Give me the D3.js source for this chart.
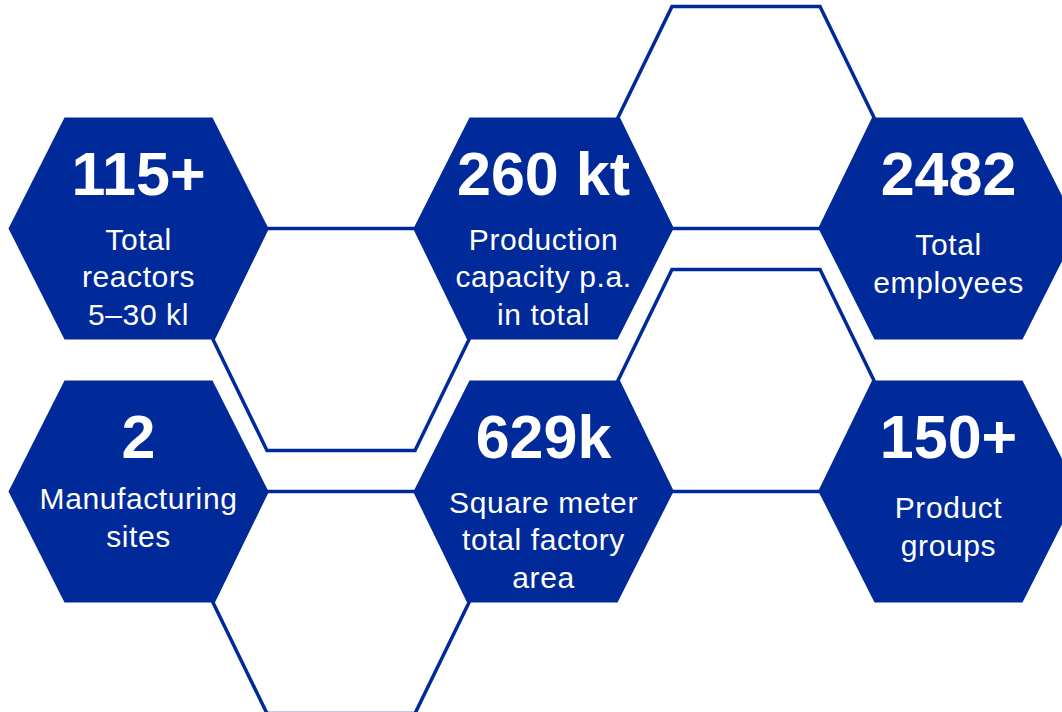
<!DOCTYPE html>
<html>
<head>
<meta charset="utf-8">
<script src="https://cdn.jsdelivr.net/npm/d3@7/dist/d3.min.js"></script>
<style>
  html, body { margin: 0; padding: 0; background: #ffffff; overflow: hidden; }
  svg { display: block; }
</style>
</head>
<body>
<svg id="chart" width="1062" height="712"></svg>
<script>
// ---- data ----
const values = ["115+", "260 kt", "2482", "2", "629k", "150+"];
const labels = [
  ["Total", "reactors", "5\u201330 kl"],
  ["Production", "capacity p.a.", "in total"],
  ["Total", "employees"],
  ["Manufacturing", "sites"],
  ["Square meter", "total factory", "area"],
  ["Product", "groups"]
];
const filledCols = [0, 2, 4, 0, 2, 4];
const filledRows = [0, 0, 0, 1, 1, 1];
const outlineCols = [1, 1, 3, 3];
const outlineRows = [0, 1, 0, 1];
const outlineShift = [1, 1, -1, -1];

// ---- layout ----
const W = 1062, H = 712;
const blue = "#00299a";
const halfW = 130, halfTop = 74, halfH = 111;
const x = d3.scaleLinear().domain([0, 4]).range([138.5, 948.5]);
const y = d3.scaleLinear().domain([0, 1]).range([228.5, 491.5]);

const svg = d3.select("#chart");
svg.append("rect").attr("width", W).attr("height", H).attr("fill", "#fff");

function hexPath(cx, cy, hw, ht, hh) {
  const pts = [
    [cx - ht, cy - hh], [cx + ht, cy - hh], [cx + hw, cy],
    [cx + ht, cy + hh], [cx - ht, cy + hh], [cx - hw, cy]
  ];
  return d3.line()(pts) + "Z";
}

// outline hexagons
const outlines = outlineCols.map((c, i) => ({ c, r: outlineRows[i], s: outlineShift[i] }));
svg.append("g").selectAll("path").data(outlines).join("path")
  .attr("d", d => hexPath(x(d.c), y(d.r) + d.s * halfH, halfW - 2, halfTop, halfH))
  .attr("fill", "none")
  .attr("stroke", blue)
  .attr("stroke-width", 3.5)
  .attr("stroke-linejoin", "miter");

// filled hexagons
const items = values.map((v, i) => ({ v, lines: labels[i], c: filledCols[i], r: filledRows[i], i }));
const g = svg.append("g").selectAll("g").data(items).join("g")
  .attr("transform", d => `translate(${x(d.c)},${y(d.r)})`);

g.append("path")
  .attr("d", hexPath(0, 0, halfW, halfTop, halfH))
  .attr("fill", blue);

g.append("text")
  .attr("x", 0).attr("y", -33.5)
  .attr("text-anchor", "middle")
  .attr("font-family", "'Liberation Sans', Arial, sans-serif")
  .attr("font-weight", "bold")
  .attr("font-size", 61)
  .attr("fill", "#fff")
  .text(d => d.v);

const lineH = 37.5;
g.each(function(d) {
  let start = d.lines.length === 3 ? 21 : 26.5;
  if (d.i === 3) start = 17.5;
  const t = d3.select(this).append("text")
    .attr("text-anchor", "middle")
    .attr("font-family", "'Liberation Sans', Arial, sans-serif")
    .attr("font-size", 30)
    .attr("letter-spacing", 0.6)
    .attr("fill", "#fff");
  t.selectAll("tspan").data(d.lines).join("tspan")
    .attr("x", 0)
    .attr("y", (l, k) => start + k * lineH)
    .text(l => l);
});
</script>
</body>
</html>
